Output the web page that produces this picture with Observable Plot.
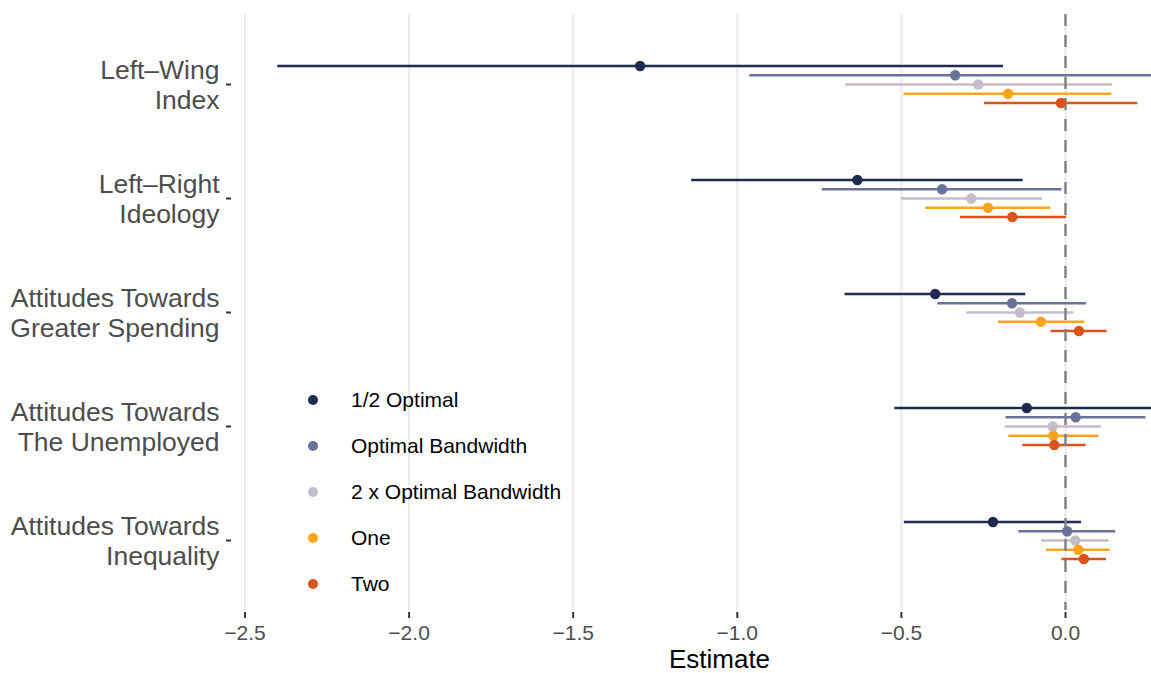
<!DOCTYPE html>
<html>
<head>
<meta charset="utf-8">
<script src="https://cdn.jsdelivr.net/npm/d3@7"></script>
<script src="https://cdn.jsdelivr.net/npm/@observablehq/plot@0.6"></script>
<style>
  html, body { margin: 0; padding: 0; background: #fff; overflow: hidden; }
  #fig { position: relative; width: 1151px; height: 673px; overflow: hidden; font-family: "Liberation Sans", Arial, sans-serif; }
  #fig svg { display: block; max-width: none !important; width: 1205px !important; height: 673px !important; }
  #legend { position: absolute; left: 0; top: 0; z-index: 2; }
  .swatch { position: absolute; width: 10px; height: 10px; border-radius: 50%; }
  .lab { position: absolute; font-size: 21px; color: #000; white-space: nowrap; }
</style>
</head>
<body>
<div id="fig"></div>
<script>
// ---- data ----
const categories = [
  "Left–Wing\nIndex",
  "Left–Right\nIdeology",
  "Attitudes Towards\nGreater Spending",
  "Attitudes Towards\nThe Unemployed",
  "Attitudes Towards\nInequality"
];
const seriesNames = ["1/2 Optimal", "Optimal Bandwidth", "2 x Optimal Bandwidth", "One", "Two"];
const seriesColors = ["#1f2a4f", "#69729a", "#c6bdca", "#fba41b", "#db531c"];

// rows: series, columns: categories (in order above)
const estimates = [
  [-1.296, -0.634, -0.397, -0.118, -0.221],
  [-0.336, -0.376, -0.163,  0.031,  0.005],
  [-0.266, -0.287, -0.139, -0.039,  0.030],
  [-0.175, -0.236, -0.075, -0.037,  0.039],
  [-0.014, -0.162,  0.041, -0.034,  0.056]
];
const lower = [
  [-2.400, -1.139, -0.672, -0.520, -0.491],
  [-0.962, -0.741, -0.389, -0.181, -0.142],
  [-0.670, -0.500, -0.301, -0.184, -0.073],
  [-0.492, -0.426, -0.204, -0.172, -0.058],
  [-0.247, -0.320, -0.044, -0.130, -0.011]
];
const upper = [
  [-0.189, -0.129, -0.121,  0.290,  0.049],
  [ 0.300, -0.011,  0.064,  0.245,  0.153],
  [ 0.143, -0.070,  0.025,  0.109,  0.133],
  [ 0.141, -0.045,  0.059,  0.102,  0.136],
  [ 0.220,  0.003,  0.127,  0.063,  0.125]
];
const xTicks = [-2.5, -2.0, -1.5, -1.0, -0.5, 0.0];

// ---- build table ----
const rows = [];
seriesNames.forEach((s, i) => {
  categories.forEach((c, j) => {
    rows.push({series: s, si: i, cat: c, est: estimates[i][j], lo: lower[i][j], hi: upper[i][j]});
  });
});

const font = '"Liberation Sans", Arial, sans-serif';
const step = 9.25;

const ruleMarks = seriesNames.map((s, i) =>
  Plot.ruleY(rows.filter(d => d.si === i), {
    y: "cat", x1: "lo", x2: "hi", stroke: seriesColors[i], strokeWidth: 2.7,
    dy: (i - 2) * step, clip: true
  })
);
const dotMarks = seriesNames.map((s, i) =>
  Plot.dot(rows.filter(d => d.si === i), {
    x: "est", y: "cat", r: 5.2, fill: seriesColors[i], stroke: "none",
    dy: (i - 2) * step
  })
);

const chart = Plot.plot({
  width: 1205,
  height: 673,
  marginLeft: 233,
  marginRight: 0,
  marginTop: 14,
  marginBottom: 63,
  style: {fontFamily: font, background: "#fff", maxWidth: "none"},
  x: {domain: [-2.535, 0.4266]},
  y: {type: "point", domain: categories, padding: 0.6},
  marks: [
    Plot.gridX(xTicks, {stroke: "#ebebeb", strokeOpacity: 1, strokeWidth: 2.2}),
    Plot.axisX(xTicks, {
      tickSize: 6, tickPadding: 7, dy: 2, fontSize: 21, fill: "#4d4d4d", stroke: "#333",
      strokeWidth: 2, label: null, tickFormat: d => (d < 0 ? "\u2212" : "") + Math.abs(d).toFixed(1)
    }),
    Plot.axisY({
      tickSize: 5, tickPadding: 7, dx: -2, fontSize: 26.5, fill: "#4d4d4d", stroke: "#333",
      strokeWidth: 2, label: null, lineHeight: 1.13, tickFormat: d => d
    }),
    ...ruleMarks,
    Plot.ruleX([0], {stroke: "#808080", strokeWidth: 2.4, strokeDasharray: "12,9"}),
    ...dotMarks,
    Plot.text(["Estimate"], {frameAnchor: "bottom", lineAnchor: "middle", dy: 49, fontSize: 26, fill: "#000"})
  ]
});

const fig = document.getElementById("fig");
fig.appendChild(chart);

// legend (inside the panel, as in the reference)
const legend = document.createElement("div");
legend.id = "legend";
seriesNames.forEach((s, i) => {
  const cy = 400 + i * 46;
  const sw = document.createElement("div");
  sw.className = "swatch";
  sw.style.left = (313 - 5) + "px";
  sw.style.top = (cy - 5) + "px";
  sw.style.background = seriesColors[i];
  legend.appendChild(sw);
  const lab = document.createElement("div");
  lab.className = "lab";
  lab.style.left = "351px";
  lab.style.top = (cy - 12) + "px";
  lab.style.lineHeight = "24px";
  lab.textContent = s;
  legend.appendChild(lab);
});
fig.appendChild(legend);
</script>
</body>
</html>
